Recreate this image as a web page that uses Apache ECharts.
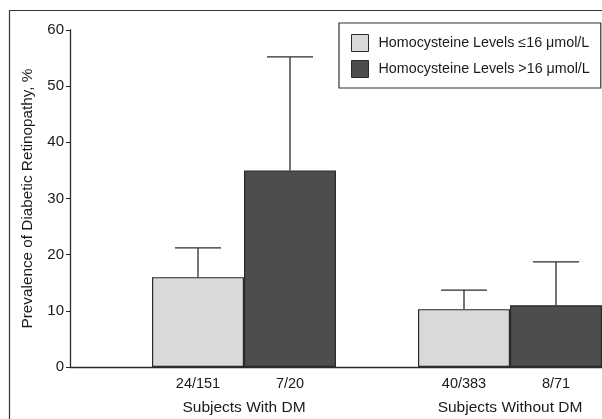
<!DOCTYPE html>
<html>
<head>
<meta charset="utf-8">
<script src="https://cdn.jsdelivr.net/npm/echarts@6/dist/echarts.min.js"></script>
<style>
html,body{margin:0;padding:0;background:#fff;}
#main{width:602px;height:419px;}
</style>
</head>
<body>
<div id="main"></div>
<script>
// ---- data ----
var groups = ['Subjects With DM', 'Subjects Without DM'];
var seriesNames = ['Homocysteine Levels \u226416 \u03bcmol/L', 'Homocysteine Levels >16 \u03bcmol/L'];
var lowValues = [16, 10.3];        // homocysteine <=16
var highValues = [35, 11];         // homocysteine >16
var lowErrUpper = [21.2, 13.7];
var highErrUpper = [55.2, 18.7];
var lowCounts = ['24/151', '40/383'];
var highCounts = ['7/20', '8/71'];
var yTicks = [0, 10, 20, 30, 40, 50, 60];

// ---- styling / layout ----
var FONT = '"Liberation Sans Narrow", "Arial Narrow", "Liberation Sans", sans-serif';
var TEXT = '#1a1a1a';
var LINE = '#2b2b2b';
var SPACER_W = 82, BAR_W = 92;
var TOTAL_W = SPACER_W + 2 * BAR_W;
var offLow = -TOTAL_W / 2 + SPACER_W + BAR_W / 2;
var offHigh = offLow + BAR_W;

function errData(vals, ups) {
  return vals.map(function (v, i) { return [i, ups[i], v]; });
}
function errRender(offset) {
  return function (params, api) {
    var top = api.coord([api.value(0), api.value(1)]);
    var base = api.coord([api.value(0), api.value(2)]);
    var x = top[0] + offset;
    var half = BAR_W / 4;
    var st = { stroke: LINE, lineWidth: 1.3 };
    return {
      type: 'group',
      children: [
        { type: 'line', shape: { x1: x, y1: base[1], x2: x, y2: top[1] }, style: st },
        { type: 'line', shape: { x1: x - half, y1: top[1], x2: x + half, y2: top[1] }, style: st }
      ]
    };
  };
}

var chart = echarts.init(document.getElementById('main'), null, { renderer: 'canvas' });
chart.setOption({
  animation: false,
  textStyle: { fontFamily: FONT, color: TEXT },
  graphic: [{
    type: 'rect', z: -1,
    shape: { x: 9.5, y: 10.5, width: 800, height: 800 },
    style: { fill: 'none', stroke: '#333', lineWidth: 1.2 }
  }],
  legend: {
    data: seriesNames,
    orient: 'vertical',
    left: 339, top: 23,
    padding: [11, 11, 10, 12],
    icon: 'rect',
    itemWidth: 17, itemHeight: 17, itemGap: 8,
    borderColor: '#333', borderWidth: 1.2,
    backgroundColor: '#fff',
    textStyle: { fontFamily: FONT, fontSize: 14.3, color: TEXT, padding: [0, 0, 0, 5] },
    itemStyle: { borderColor: LINE, borderWidth: 1 }
  },
  grid: { left: 70, right: 0, top: 30, bottom: 52 },
  xAxis: {
    type: 'category',
    data: groups,
    axisLine: { lineStyle: { color: LINE, width: 1.3 } },
    axisTick: { show: false },
    axisLabel: { fontFamily: FONT, fontSize: 15.5, color: TEXT, margin: 33, padding: [0, 0, 0, 82] }
  },
  yAxis: {
    type: 'value',
    min: yTicks[0], max: yTicks[yTicks.length - 1], interval: 10,
    name: 'Prevalence of Diabetic Retinopathy, %',
    nameLocation: 'middle', nameGap: 35,
    nameTextStyle: { fontFamily: FONT, fontSize: 15.3, color: TEXT },
    axisLine: { show: true, lineStyle: { color: LINE, width: 1.3 } },
    axisTick: { show: true, length: 4, lineStyle: { color: LINE } },
    axisLabel: { fontFamily: FONT, fontSize: 15, color: TEXT, margin: 6 },
    splitLine: { show: false }
  },
  series: [
    { type: 'bar', name: 'spacer', data: groups.map(function () { return '-'; }), barWidth: SPACER_W, barGap: 0, silent: true },
    {
      type: 'bar', name: seriesNames[0], data: lowValues, barWidth: BAR_W, barGap: 0,
      itemStyle: { color: '#d9d9d9', borderColor: LINE, borderWidth: 1.2 },
      label: { show: true, position: 'bottom', distance: 9, fontFamily: FONT, fontSize: 14.5, color: TEXT,
        formatter: function (p) { return lowCounts[p.dataIndex]; } }
    },
    {
      type: 'bar', name: seriesNames[1], data: highValues, barWidth: BAR_W, barGap: 0,
      itemStyle: { color: '#4d4d4d', borderColor: LINE, borderWidth: 1.2 },
      label: { show: true, position: 'bottom', distance: 9, fontFamily: FONT, fontSize: 14.5, color: TEXT,
        formatter: function (p) { return highCounts[p.dataIndex]; } }
    },
    { type: 'custom', name: 'errLow', renderItem: errRender(offLow), data: errData(lowValues, lowErrUpper), encode: { x: 0, y: 1 }, z: 1 },
    { type: 'custom', name: 'errHigh', renderItem: errRender(offHigh), data: errData(highValues, highErrUpper), encode: { x: 0, y: 1 }, z: 1 }
  ]
});
</script>
</body>
</html>
